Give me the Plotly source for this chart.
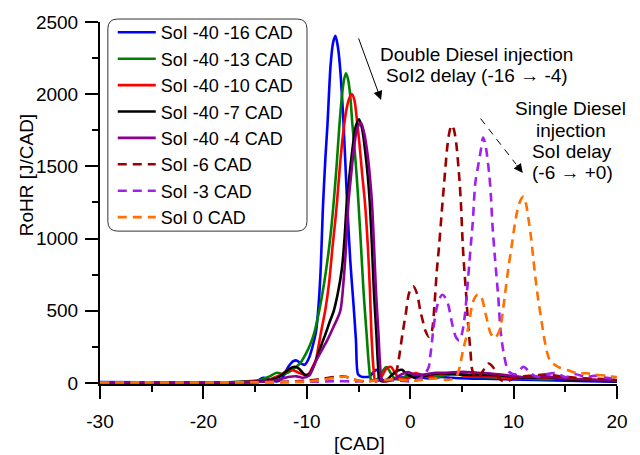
import plotly.graph_objects as go

# ---------------- data ----------------
names = ["SoI -40 -16 CAD", "SoI -40 -13 CAD", "SoI -40 -10 CAD", "SoI -40 -7 CAD",
         "SoI -40 -4 CAD", "SoI -6 CAD", "SoI -3 CAD", "SoI 0 CAD"]

cad_m16 = [-30, -26, -22, -18, -16, -15, -14.2, -13.6, -12.9, -12.4, -11.8, -11.3, -11.0, -10.6, -10.2,
           -9.8, -9.45, -9.1, -8.85, -8.65, -8.45, -8.2, -8.0, -7.7, -7.45, -7.23, -7.0, -6.8, -6.45,
           -6.1, -5.8, -5.5, -5.25, -5.05, -4.8, -4.3, -3.9, -3.6, -3.3, -3.0, -2.75, -2.4, -1.8, -1.0,
           0, 1, 2, 3, 4, 5.5, 7, 9, 11, 13, 15, 17, 20]
rohr_m16 = [5, 3, 4, 3, 4, 8, 35, 25, 9, 30, 110, 150, 155, 135, 125,
            170, 250, 360, 550, 800, 1200, 1560, 1790, 2200, 2360, 2405, 2330, 2200, 1800,
            1250, 850, 560, 300, 60, 45, 40, 45, 70, 90, 70, 25, 12, 20, 35,
            42, 38, 30, 40, 35, 30, 28, 25, 22, 18, 15, 12, 8]

cad_m13 = [-30, -26, -22, -18, -16.5, -15.5, -14.5, -13.6, -12.9, -12.2, -11.6, -11.0, -10.5, -10.1,
           -9.7, -9.3, -8.8, -8.34, -8.0, -7.7, -7.4, -7.1, -6.85, -6.6, -6.4, -6.21, -6.0, -5.8, -5.6,
           -5.3, -5.05, -4.8, -4.5, -4.22, -4.0, -3.8, -3.5, -3.1, -2.7, -2.3, -1.9, -1.5, -1.0, -0.2,
           0.6, 1.5, 2.5, 3.5, 4.5, 5.5, 7, 9, 11, 13, 15, 17, 20]
rohr_m13 = [4, 3, 4, 3, 8, 12, 20, 45, 70, 60, 80, 111, 150, 200,
            260, 341, 500, 683, 850, 1025, 1250, 1520, 1780, 1990, 2100, 2145, 2100, 1990, 1800,
            1550, 1300, 1000, 620, 341, 130, 25, 15, 30, 80, 110, 70, 30, 25, 55,
            60, 45, 40, 55, 60, 45, 40, 35, 30, 25, 30, 20, 15]

cad_m10 = [-30, -26, -22, -18, -16, -15, -14, -13.2, -12.4, -11.7, -11.1, -10.6, -10.1, -9.77, -9.45,
           -9.13, -8.9, -8.65, -8.2, -7.86, -7.5, -7.25, -7.08, -6.8, -6.5, -6.2, -5.9, -5.65, -5.4,
           -5.15, -4.9, -4.65, -4.38, -4.1, -3.9, -3.75, -3.55, -3.37, -3.1, -2.7, -2.3, -1.85, -1.4,
           -0.9, -0.2, 0.5, 1.5, 2.5, 3.5, 4.3, 5.2, 6.5, 8, 10, 12, 14, 16, 18, 20]
rohr_m10 = [3, 4, 3, 4, 6, 10, 15, 35, 60, 95, 80, 65, 55, 66, 110,
            157, 240, 341, 510, 683, 950, 1120, 1250, 1500, 1720, 1880, 1970, 2001, 1960,
            1820, 1650, 1450, 1250, 950, 650, 341, 100, 10, 15, 50, 100, 110, 60,
            25, 30, 68, 45, 55, 60, 68, 50, 45, 40, 35, 40, 30, 25, 20, 15]

cad_m7 = [-30, -26, -22, -18, -16, -14.5, -13.5, -12.6, -11.8, -11.2, -10.8, -10.4, -10.1, -9.7, -9.3,
          -8.9, -8.5, -8.18, -7.8, -7.39, -7.0, -6.6, -6.35, -6.13, -5.85, -5.55, -5.25, -4.95, -4.65,
          -4.3, -4.1, -3.91, -3.7, -3.5, -3.27, -3.1, -2.96, -2.6, -2.2, -1.7, -1.2, -0.8, -0.3, 0.5,
          1.5, 2.9, 4.5, 6, 7.6, 9, 11, 13, 15, 17, 20]
rohr_m7 = [4, 3, 4, 3, 5, 10, 20, 45, 90, 111, 100, 70, 50, 65, 120,
           200, 280, 341, 420, 499, 620, 794, 1000, 1250, 1450, 1640, 1780, 1826, 1760,
           1571, 1430, 1250, 950, 620, 341, 110, 20, 10, 25, 60, 85, 90, 60, 35,
           50, 66, 60, 55, 55, 50, 35, 40, 25, 20, 10]

cad_m4 = [-30, -26, -22, -18, -16, -14.5, -13.5, -12.6, -11.8, -11.0, -10.4, -9.76, -9.2, -8.6, -8.03,
          -7.4, -6.76, -6.45, -6.2, -5.97, -5.7, -5.45, -5.2, -4.95, -4.75, -4.45, -4.1, -3.9, -3.7,
          -3.5, -3.3, -3.07, -2.9, -2.76, -2.4, -1.5, -0.8, -0.2, 0.5, 1.5, 2.5, 3.5, 5.1, 6.5, 7.6,
          9, 11, 13, 15, 17, 20]
rohr_m4 = [3, 4, 3, 4, 5, 8, 12, 25, 40, 45, 35, 50, 140, 220, 294,
           390, 499, 700, 950, 1250, 1450, 1620, 1740, 1790, 1800, 1730, 1570, 1430, 1250,
           950, 620, 341, 110, 20, 10, 30, 60, 75, 55, 60, 70, 70, 77, 70, 66,
           55, 40, 45, 30, 25, 15]

cad_s6 = [-30, -26, -22, -18, -15, -12, -10, -8.5, -7.3, -6.4, -5.5, -4.5, -3.6, -2.8, -2.2, -1.7,
          -1.38, -1.07, -0.75, -0.43, -0.1, 0.29, 0.65, 0.98, 1.25, 1.46, 1.8, 2.1, 2.35, 2.57, 2.8,
          3.05, 3.3, 3.59, 3.8, 4.0, 4.2, 4.45, 4.76, 4.9, 5.07, 5.2, 5.39, 5.6, 5.82, 6.0, 6.3, 6.7,
          7.2, 7.6, 8.0, 8.4, 8.75, 9.3, 10, 11, 12, 13.3, 14.5, 16, 17.5, 19, 20]
rohr_s6 = [2, 3, 2, 3, 5, 8, 15, 28, 40, 45, 25, 10, 15, 20, 15, 25,
           66, 180, 339, 476, 624, 669, 620, 499, 420, 362, 320, 362, 544, 772, 954,
           1182, 1400, 1637, 1740, 1785, 1760, 1660, 1409, 1250, 977, 818, 635, 408, 225, 89, 40, 50,
           100, 134, 110, 60, 20, 10, 30, 45, 50, 60, 45, 35, 30, 25, 20]

cad_s3 = [-30, -26, -22, -18, -15, -12, -9, -7, -5.5, -4, -2.5, -1, 0, 0.8, 1.4, 1.8, 1.93, 2.1, 2.26,
          2.57, 2.88, 3.1, 3.4, 3.67, 4.06, 4.4, 4.72, 5.0, 5.26, 5.58, 5.73, 5.89, 6.05, 6.3, 6.62,
          6.85, 7.05, 7.3, 7.63, 7.8, 7.95, 8.2, 8.52, 8.74, 9.05, 9.53, 10.2, 10.95, 11.6, 12.3,
          13.2, 14.1, 15, 16, 17, 18, 19, 20]
rohr_s3 = [2, 3, 2, 3, 4, 5, 8, 12, 10, 15, 20, 15, 10, 25, 60, 111, 180, 280, 385,
           521, 590, 610, 590, 544, 408, 320, 294, 340, 453, 704, 840, 977, 1113, 1387, 1523,
           1620, 1700, 1640, 1455, 1300, 1100, 863, 590, 362, 203, 77, 60, 111, 70, 40,
           60, 68, 40, 60, 40, 50, 35, 30]

cad_s0 = [-30, -26, -22, -18, -15, -12, -10, -8.5, -7.3, -6.3, -5.5, -4.4, -3.5, -2.5, -1.5, -0.5, 0.5,
          1.5, 2.5, 3.5, 4.0, 4.47, 4.79, 5.1, 5.42, 5.73, 6.0, 6.25, 6.53, 6.9, 7.3, 7.8, 8.2, 8.5,
          8.74, 9.0, 9.25, 9.5, 9.78, 10.05, 10.35, 10.7, 10.95, 11.2, 11.45, 11.7, 11.9, 12.15, 12.4,
          12.7, 13.0, 13.5, 14.3, 15.2, 16.2, 17.1, 18, 19, 20]
rohr_s0 = [2, 3, 2, 3, 4, 6, 10, 20, 35, 43, 25, 9, 15, 20, 25, 20, 15,
           25, 30, 20, 25, 43, 111, 225, 316, 430, 544, 590, 613, 590, 476, 339, 310, 340,
           385, 520, 660, 800, 931, 1068, 1190, 1270, 1291, 1240, 1130, 1000, 863, 704, 567,
           430, 294, 157, 111, 89, 66, 66, 55, 50, 40]

x_ticks = [-30, -20, -10, 0, 10, 20]
y_ticks = [0, 500, 1000, 1500, 2000, 2500]

# ---------------- styling ----------------
FONT = "Liberation Sans, Arial, sans-serif"
colors = ["#0000FF", "#008000", "#FF0000", "#000000", "#8B008B", "#990000", "#A020F0", "#FF7000"]
dashes = ["solid"] * 5 + ["9px,6px"] * 3
xs = [cad_m16, cad_m13, cad_m10, cad_m7, cad_m4, cad_s6, cad_s3, cad_s0]
ys = [rohr_m16, rohr_m13, rohr_m10, rohr_m7, rohr_m4, rohr_s6, rohr_s3, rohr_s0]

W, H = 640, 455
L, R, T, B = 100, 13, 17, 71
PW, PH = W - L - R, H - T - B


def pxp(xp):
    return (xp - L) / PW


def pyp(yp):
    return (H - B - yp) / PH


fig = go.Figure()
for n, c, d, x, y in zip(names, colors, dashes, xs, ys):
    fig.add_trace(go.Scatter(x=x, y=y, name=n, mode="lines",
                             line=dict(color=c, width=2.6, dash=d, shape="spline", smoothing=0.8)))

# rounded legend frame
x0, x1, y0, y1 = pxp(108), pxp(311), pyp(229), pyp(14)
rx, ry = 10 / PW, 10 / PH
path = (f"M{x0+rx},{y1} L{x1-rx},{y1} Q{x1},{y1} {x1},{y1-ry} L{x1},{y0+ry} Q{x1},{y0} {x1-rx},{y0} "
        f"L{x0+rx},{y0} Q{x0},{y0} {x0},{y0+ry} L{x0},{y1-ry} Q{x0},{y1} {x0+rx},{y1} Z")
shapes = [dict(type="path", xref="paper", yref="paper", path=path,
               line=dict(color="#333333", width=1), fillcolor="rgba(255,255,255,0)", layer="above")]
# dashed arrow shaft
shapes.append(dict(type="line", xref="paper", yref="paper", x0=pxp(488), y0=pyp(115),
                   x1=pxp(524), y1=pyp(161), line=dict(color="black", width=1, dash="7px,6px")))

ann = []
txt = dict(size=19, color="black", family=FONT)
for t, xp, yp in [("Double Diesel injection", 484, 50), ("SoI2 delay (-16 \u2192 -4)", 484, 71.5),
                  ("Single Diesel", 580, 105), ("injection", 580, 126.5),
                  ("SoI delay", 581, 148), ("(-6 \u2192 +0)", 582, 170)]:
    ann.append(dict(text=t, x=pxp(xp), y=pyp(yp), xref="paper", yref="paper", showarrow=False,
                    xanchor="center", yanchor="middle", font=txt))
# solid arrow
ann.append(dict(text="", x=pxp(386.5), y=pyp(96), xref="paper", yref="paper", ax=-23, ay=-63,
                showarrow=True, arrowhead=2, arrowsize=1.8, arrowwidth=1, arrowcolor="black"))
# dashed arrow head
ann.append(dict(text="", x=pxp(531), y=pyp(170), xref="paper", yref="paper", ax=-7.4, ay=-9.5,
                showarrow=True, arrowhead=2, arrowsize=1.8, arrowwidth=1, arrowcolor="black"))
# axis titles
ann.append(dict(text="RoHR [J/CAD]", x=pxp(25), y=pyp(172), xref="paper", yref="paper",
                showarrow=False, textangle=-90, xanchor="center", yanchor="middle", font=txt))
ann.append(dict(text="[CAD]", x=pxp(365), y=pyp(444.5), xref="paper", yref="paper",
                showarrow=False, xanchor="center", yanchor="middle", font=txt))

axis_common = dict(showgrid=False, zeroline=False, showline=True, linecolor="black", linewidth=2,
                   ticks="outside", ticklen=13, tickwidth=1.6, tickcolor="black",
                   tickfont=dict(size=19, color="black", family=FONT))
fig.update_layout(
    width=W, height=H, margin=dict(l=L, r=R, t=T, b=B),
    paper_bgcolor="white", plot_bgcolor="white",
    font=dict(family=FONT, size=19, color="black"),
    xaxis=dict(range=[-30, 20], tickvals=x_ticks, ticktext=[str(v) for v in x_ticks],
               ticklabelstandoff=6,
               minor=dict(dtick=5, tick0=-30, ticklen=6, tickwidth=1.6, tickcolor="black",
                          ticks="outside", showgrid=False),
               **axis_common),
    yaxis=dict(range=[-8, 2500], tickvals=y_ticks, ticktext=[str(v) for v in y_ticks],
               ticklabelstandoff=3,
               minor=dict(dtick=250, tick0=0, ticklen=6, tickwidth=1.6, tickcolor="black",
                          ticks="outside", showgrid=False),
               **axis_common),
    legend=dict(x=pxp(113), y=pyp(9), xanchor="left", yanchor="top", itemwidth=38,
                bgcolor="rgba(0,0,0,0)", borderwidth=0,
                font=dict(size=18, color="black", family=FONT)),
    shapes=shapes, annotations=ann,
)

fig.write_html("out.html")
